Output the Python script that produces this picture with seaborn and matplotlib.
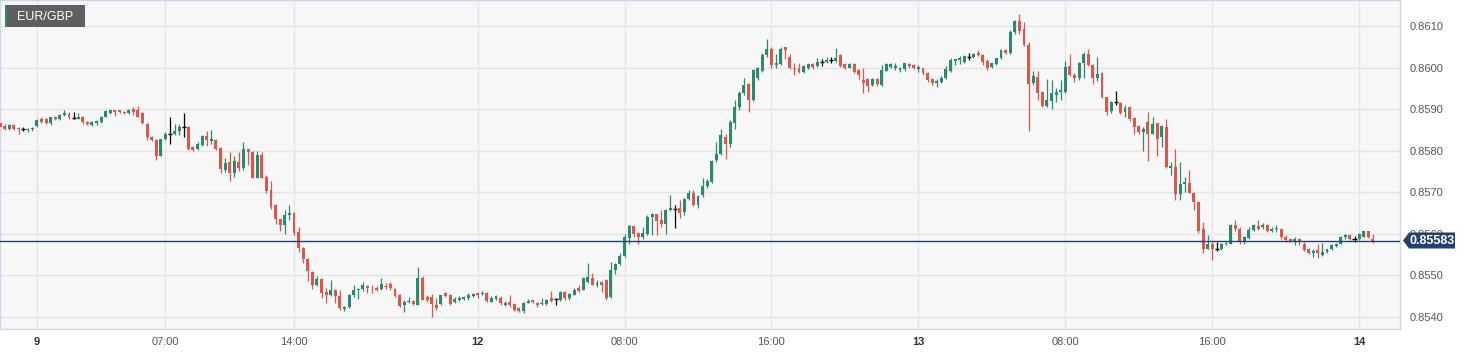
import numpy as np
import pandas as pd
import matplotlib
matplotlib.use("Agg")
import matplotlib.pyplot as plt
from matplotlib.patches import Polygon, Rectangle
import seaborn as sns

# EUR/GBP 15 minute candles, from 8th 22:00 to 14th 00:45
opens = [
    0.85867, 0.85860, 0.85852, 0.85861, 0.85855, 0.85852, 0.85849, 0.85851, 0.85859, 0.85877,
    0.85876, 0.85867, 0.85881, 0.85877, 0.85886, 0.85889, 0.85878, 0.85877, 0.85881, 0.85869,
    0.85861, 0.85866, 0.85868, 0.85881, 0.85890, 0.85897, 0.85898, 0.85894, 0.85890, 0.85900,
    0.85898, 0.85890, 0.85865, 0.85833, 0.85825, 0.85788, 0.85827, 0.85841, 0.85840, 0.85848,
    0.85858, 0.85858, 0.85809, 0.85804, 0.85813, 0.85835, 0.85824, 0.85825, 0.85807, 0.85753,
    0.85772, 0.85746, 0.85772, 0.85759, 0.85803, 0.85796, 0.85735, 0.85789, 0.85736, 0.85705,
    0.85669, 0.85634, 0.85620, 0.85644, 0.85649, 0.85603, 0.85565, 0.85538, 0.85508, 0.85475,
    0.85490, 0.85460, 0.85452, 0.85464, 0.85449, 0.85418, 0.85424, 0.85451, 0.85463, 0.85466,
    0.85473, 0.85470, 0.85469, 0.85467, 0.85474, 0.85478, 0.85466, 0.85452, 0.85427, 0.85434,
    0.85438, 0.85429, 0.85492, 0.85448, 0.85448, 0.85427, 0.85431, 0.85456, 0.85453, 0.85435,
    0.85440, 0.85443, 0.85444, 0.85449, 0.85457, 0.85454, 0.85456, 0.85436, 0.85443, 0.85445,
    0.85428, 0.85435, 0.85430, 0.85420, 0.85413, 0.85433, 0.85440, 0.85433, 0.85430, 0.85430,
    0.85444, 0.85442, 0.85440, 0.85460, 0.85445, 0.85453, 0.85470, 0.85465, 0.85484, 0.85492,
    0.85477, 0.85483, 0.85488, 0.85448, 0.85512, 0.85526, 0.85546, 0.85589, 0.85618, 0.85602,
    0.85592, 0.85599, 0.85640, 0.85646, 0.85632, 0.85623, 0.85657, 0.85659, 0.85661, 0.85652,
    0.85683, 0.85697, 0.85669, 0.85692, 0.85715, 0.85725, 0.85777, 0.85792, 0.85833, 0.85817,
    0.85866, 0.85906, 0.85939, 0.85960, 0.85922, 0.85974, 0.85992, 0.86030, 0.86046, 0.86006,
    0.86008, 0.86049, 0.86026, 0.86000, 0.85998, 0.85990, 0.86000, 0.86008, 0.86004, 0.86013,
    0.86013, 0.86018, 0.86016, 0.86030, 0.86008, 0.86000, 0.86008, 0.85994, 0.85970, 0.85972,
    0.85958, 0.85972, 0.85958, 0.85992, 0.86002, 0.85998, 0.85994, 0.85996, 0.86008, 0.86006,
    0.85996, 0.85998, 0.85987, 0.85972, 0.85962, 0.85965, 0.85974, 0.85992, 0.86016, 0.86018,
    0.86014, 0.86025, 0.86026, 0.86036, 0.86030, 0.86016, 0.86002, 0.86008, 0.86022, 0.86042,
    0.86036, 0.86086, 0.86112, 0.86092, 0.86054, 0.85962, 0.85978, 0.85942, 0.85908, 0.85920,
    0.85935, 0.85942, 0.85942, 0.86004, 0.85982, 0.85976, 0.86010, 0.86034, 0.86006, 0.85976,
    0.85986, 0.85928, 0.85896, 0.85916, 0.85914, 0.85892, 0.85906, 0.85878, 0.85859, 0.85844,
    0.85868, 0.85841, 0.85866, 0.85832, 0.85856, 0.85758, 0.85761, 0.85695, 0.85719, 0.85722,
    0.85697, 0.85675, 0.85610, 0.85564, 0.85574, 0.85562, 0.85562, 0.85575, 0.85576, 0.85620,
    0.85610, 0.85583, 0.85590, 0.85608, 0.85618, 0.85615, 0.85620, 0.85607, 0.85610, 0.85611,
    0.85591, 0.85587, 0.85580, 0.85588, 0.85576, 0.85564, 0.85552, 0.85560, 0.85548, 0.85556,
    0.85562, 0.85570, 0.85575, 0.85591, 0.85596, 0.85587, 0.85586, 0.85592, 0.85606, 0.85588,
]
highs = [
    0.85871, 0.85863, 0.85863, 0.85863, 0.85857, 0.85858, 0.85855, 0.85858, 0.85875, 0.85881,
    0.85879, 0.85882, 0.85884, 0.85889, 0.85899, 0.85893, 0.85892, 0.85890, 0.85884, 0.85871,
    0.85871, 0.85874, 0.85883, 0.85898, 0.85899, 0.85898, 0.85899, 0.85896, 0.85900, 0.85906,
    0.85907, 0.85892, 0.85867, 0.85836, 0.85827, 0.85829, 0.85844, 0.85880, 0.85865, 0.85865,
    0.85890, 0.85860, 0.85811, 0.85821, 0.85837, 0.85847, 0.85849, 0.85827, 0.85809, 0.85781,
    0.85797, 0.85787, 0.85796, 0.85821, 0.85805, 0.85798, 0.85799, 0.85797, 0.85741, 0.85726,
    0.85671, 0.85636, 0.85657, 0.85669, 0.85651, 0.85616, 0.85567, 0.85540, 0.85510, 0.85497,
    0.85492, 0.85470, 0.85488, 0.85466, 0.85464, 0.85426, 0.85454, 0.85476, 0.85470, 0.85484,
    0.85477, 0.85475, 0.85473, 0.85492, 0.85481, 0.85484, 0.85468, 0.85454, 0.85440, 0.85448,
    0.85440, 0.85520, 0.85497, 0.85452, 0.85455, 0.85444, 0.85453, 0.85459, 0.85454, 0.85448,
    0.85449, 0.85450, 0.85456, 0.85457, 0.85459, 0.85461, 0.85458, 0.85449, 0.85452, 0.85449,
    0.85437, 0.85452, 0.85432, 0.85424, 0.85434, 0.85442, 0.85441, 0.85435, 0.85444, 0.85443,
    0.85461, 0.85444, 0.85461, 0.85462, 0.85457, 0.85470, 0.85477, 0.85496, 0.85528, 0.85504,
    0.85489, 0.85486, 0.85490, 0.85531, 0.85530, 0.85552, 0.85600, 0.85620, 0.85619, 0.85604,
    0.85616, 0.85644, 0.85649, 0.85648, 0.85657, 0.85659, 0.85694, 0.85669, 0.85681, 0.85685,
    0.85706, 0.85706, 0.85692, 0.85733, 0.85731, 0.85777, 0.85821, 0.85851, 0.85841, 0.85873,
    0.85922, 0.85943, 0.85976, 0.85963, 0.85996, 0.86002, 0.86035, 0.86070, 0.86049, 0.86033,
    0.86049, 0.86050, 0.86033, 0.86010, 0.86010, 0.86006, 0.86012, 0.86010, 0.86022, 0.86020,
    0.86025, 0.86025, 0.86048, 0.86034, 0.86010, 0.86010, 0.86010, 0.85996, 0.86000, 0.85974,
    0.85976, 0.85974, 0.86006, 0.86012, 0.86012, 0.86010, 0.86002, 0.86012, 0.86010, 0.86008,
    0.86006, 0.86000, 0.85990, 0.85974, 0.85972, 0.85980, 0.86004, 0.86022, 0.86021, 0.86028,
    0.86030, 0.86036, 0.86036, 0.86042, 0.86033, 0.86020, 0.86012, 0.86024, 0.86046, 0.86046,
    0.86090, 0.86114, 0.86129, 0.86110, 0.86062, 0.85992, 0.85992, 0.85944, 0.85972, 0.85970,
    0.85950, 0.85970, 0.86016, 0.86034, 0.85988, 0.86014, 0.86038, 0.86046, 0.86008, 0.86025,
    0.85990, 0.85930, 0.85920, 0.85943, 0.85918, 0.85910, 0.85908, 0.85880, 0.85861, 0.85856,
    0.85892, 0.85881, 0.85867, 0.85861, 0.85875, 0.85773, 0.85803, 0.85773, 0.85737, 0.85753,
    0.85701, 0.85678, 0.85628, 0.85596, 0.85580, 0.85580, 0.85578, 0.85580, 0.85624, 0.85632,
    0.85616, 0.85594, 0.85615, 0.85623, 0.85632, 0.85626, 0.85623, 0.85616, 0.85620, 0.85612,
    0.85596, 0.85589, 0.85591, 0.85590, 0.85579, 0.85566, 0.85564, 0.85576, 0.85578, 0.85564,
    0.85575, 0.85578, 0.85594, 0.85599, 0.85598, 0.85594, 0.85602, 0.85607, 0.85607, 0.85598,
]
lows = [
    0.85854, 0.85849, 0.85850, 0.85850, 0.85840, 0.85848, 0.85846, 0.85848, 0.85857, 0.85867,
    0.85864, 0.85862, 0.85874, 0.85874, 0.85884, 0.85875, 0.85875, 0.85876, 0.85865, 0.85861,
    0.85859, 0.85862, 0.85866, 0.85880, 0.85888, 0.85884, 0.85891, 0.85888, 0.85888, 0.85886,
    0.85880, 0.85864, 0.85825, 0.85823, 0.85777, 0.85786, 0.85825, 0.85817, 0.85838, 0.85837,
    0.85832, 0.85801, 0.85799, 0.85802, 0.85811, 0.85811, 0.85817, 0.85801, 0.85745, 0.85749,
    0.85727, 0.85737, 0.85751, 0.85753, 0.85765, 0.85733, 0.85733, 0.85733, 0.85698, 0.85659,
    0.85622, 0.85607, 0.85600, 0.85632, 0.85596, 0.85555, 0.85528, 0.85486, 0.85467, 0.85474,
    0.85444, 0.85432, 0.85449, 0.85432, 0.85417, 0.85414, 0.85421, 0.85448, 0.85443, 0.85462,
    0.85457, 0.85457, 0.85461, 0.85465, 0.85466, 0.85465, 0.85446, 0.85424, 0.85411, 0.85433,
    0.85429, 0.85428, 0.85440, 0.85436, 0.85399, 0.85416, 0.85428, 0.85448, 0.85429, 0.85432,
    0.85437, 0.85440, 0.85441, 0.85448, 0.85444, 0.85452, 0.85435, 0.85435, 0.85440, 0.85428,
    0.85425, 0.85424, 0.85413, 0.85411, 0.85408, 0.85432, 0.85433, 0.85422, 0.85429, 0.85428,
    0.85436, 0.85427, 0.85438, 0.85440, 0.85440, 0.85451, 0.85459, 0.85464, 0.85480, 0.85476,
    0.85472, 0.85460, 0.85440, 0.85444, 0.85502, 0.85524, 0.85544, 0.85575, 0.85592, 0.85575,
    0.85586, 0.85596, 0.85596, 0.85596, 0.85616, 0.85598, 0.85655, 0.85614, 0.85637, 0.85645,
    0.85681, 0.85666, 0.85661, 0.85689, 0.85711, 0.85722, 0.85773, 0.85789, 0.85779, 0.85809,
    0.85853, 0.85899, 0.85934, 0.85893, 0.85919, 0.85970, 0.85990, 0.86026, 0.85998, 0.85998,
    0.86006, 0.86020, 0.85996, 0.85982, 0.85986, 0.85986, 0.85996, 0.85996, 0.86002, 0.86004,
    0.86010, 0.86010, 0.86014, 0.86002, 0.85996, 0.85998, 0.85987, 0.85972, 0.85939, 0.85942,
    0.85955, 0.85955, 0.85955, 0.85991, 0.86000, 0.85994, 0.85990, 0.85992, 0.86000, 0.85996,
    0.85990, 0.85982, 0.85966, 0.85958, 0.85953, 0.85963, 0.85972, 0.85990, 0.86006, 0.86008,
    0.86010, 0.86018, 0.86022, 0.86028, 0.86006, 0.85994, 0.86000, 0.86007, 0.86020, 0.86033,
    0.86034, 0.86081, 0.86081, 0.86053, 0.85848, 0.85958, 0.85922, 0.85904, 0.85906, 0.85900,
    0.85918, 0.85923, 0.85939, 0.85980, 0.85966, 0.85970, 0.85976, 0.86004, 0.85960, 0.85968,
    0.85926, 0.85886, 0.85890, 0.85910, 0.85888, 0.85881, 0.85872, 0.85839, 0.85839, 0.85799,
    0.85775, 0.85840, 0.85787, 0.85809, 0.85757, 0.85740, 0.85682, 0.85682, 0.85701, 0.85697,
    0.85657, 0.85602, 0.85554, 0.85562, 0.85536, 0.85558, 0.85560, 0.85572, 0.85575, 0.85607,
    0.85575, 0.85575, 0.85588, 0.85607, 0.85608, 0.85610, 0.85604, 0.85604, 0.85604, 0.85588,
    0.85580, 0.85580, 0.85572, 0.85572, 0.85558, 0.85550, 0.85543, 0.85540, 0.85546, 0.85554,
    0.85560, 0.85568, 0.85574, 0.85588, 0.85584, 0.85580, 0.85584, 0.85591, 0.85590, 0.85578,
]
closes = [
    0.85857, 0.85852, 0.85861, 0.85852, 0.85851, 0.85852, 0.85853, 0.85855, 0.85873, 0.85870,
    0.85867, 0.85880, 0.85877, 0.85886, 0.85890, 0.85881, 0.85878, 0.85881, 0.85869, 0.85863,
    0.85869, 0.85871, 0.85881, 0.85896, 0.85897, 0.85893, 0.85893, 0.85890, 0.85898, 0.85894,
    0.85881, 0.85866, 0.85832, 0.85825, 0.85787, 0.85827, 0.85840, 0.85841, 0.85848, 0.85858,
    0.85858, 0.85805, 0.85801, 0.85816, 0.85834, 0.85825, 0.85828, 0.85804, 0.85755, 0.85769,
    0.85747, 0.85775, 0.85759, 0.85803, 0.85796, 0.85735, 0.85789, 0.85735, 0.85703, 0.85665,
    0.85636, 0.85620, 0.85644, 0.85649, 0.85602, 0.85565, 0.85538, 0.85509, 0.85477, 0.85490,
    0.85456, 0.85452, 0.85464, 0.85449, 0.85420, 0.85424, 0.85452, 0.85464, 0.85467, 0.85476,
    0.85468, 0.85468, 0.85464, 0.85478, 0.85472, 0.85468, 0.85449, 0.85425, 0.85434, 0.85437,
    0.85431, 0.85492, 0.85441, 0.85440, 0.85430, 0.85420, 0.85452, 0.85450, 0.85431, 0.85443,
    0.85445, 0.85448, 0.85452, 0.85454, 0.85452, 0.85457, 0.85438, 0.85444, 0.85449, 0.85432,
    0.85433, 0.85427, 0.85417, 0.85413, 0.85432, 0.85438, 0.85435, 0.85429, 0.85433, 0.85441,
    0.85438, 0.85442, 0.85458, 0.85444, 0.85454, 0.85465, 0.85461, 0.85492, 0.85496, 0.85477,
    0.85482, 0.85477, 0.85444, 0.85512, 0.85526, 0.85546, 0.85592, 0.85618, 0.85598, 0.85592,
    0.85602, 0.85640, 0.85647, 0.85631, 0.85622, 0.85657, 0.85661, 0.85659, 0.85650, 0.85683,
    0.85697, 0.85668, 0.85691, 0.85715, 0.85727, 0.85775, 0.85792, 0.85837, 0.85817, 0.85868,
    0.85904, 0.85938, 0.85958, 0.85922, 0.85994, 0.85998, 0.86030, 0.86046, 0.86006, 0.86012,
    0.86045, 0.86042, 0.85998, 0.85996, 0.85990, 0.86004, 0.86008, 0.86002, 0.86014, 0.86013,
    0.86018, 0.86018, 0.86023, 0.86004, 0.85998, 0.86008, 0.85990, 0.85982, 0.85963, 0.85955,
    0.85972, 0.85960, 0.85994, 0.86008, 0.86008, 0.86004, 0.85998, 0.86010, 0.86004, 0.86000,
    0.86002, 0.85986, 0.85970, 0.85962, 0.85967, 0.85975, 0.85996, 0.86018, 0.86020, 0.86022,
    0.86028, 0.86025, 0.86034, 0.86030, 0.86014, 0.86000, 0.86010, 0.86022, 0.86042, 0.86036,
    0.86086, 0.86112, 0.86089, 0.86054, 0.85960, 0.85980, 0.85939, 0.85907, 0.85922, 0.85939,
    0.85942, 0.85947, 0.86002, 0.85982, 0.85976, 0.86012, 0.86034, 0.86006, 0.85974, 0.85984,
    0.85928, 0.85893, 0.85916, 0.85916, 0.85891, 0.85903, 0.85875, 0.85857, 0.85845, 0.85852,
    0.85840, 0.85864, 0.85829, 0.85859, 0.85761, 0.85762, 0.85695, 0.85719, 0.85725, 0.85699,
    0.85677, 0.85607, 0.85564, 0.85574, 0.85562, 0.85562, 0.85574, 0.85578, 0.85620, 0.85610,
    0.85583, 0.85592, 0.85608, 0.85620, 0.85610, 0.85620, 0.85607, 0.85612, 0.85614, 0.85591,
    0.85584, 0.85583, 0.85588, 0.85580, 0.85560, 0.85554, 0.85558, 0.85552, 0.85556, 0.85562,
    0.85572, 0.85575, 0.85592, 0.85596, 0.85587, 0.85587, 0.85598, 0.85606, 0.85591, 0.85583,
]

# candle index of each axis label (15 min candles, weekend skipped)
tick_pos = [8, 36, 64, 104, 136, 168, 200, 232, 264, 296]
tick_labels = ['9', '07:00', '14:00', '12', '08:00', '16:00', '13', '08:00', '16:00', '14']
day_labels = ['9', '12', '13', '14']
price_ticks = [0.8540, 0.8550, 0.8560, 0.8570, 0.8580, 0.8590, 0.8600, 0.8610]
last_price = 0.85583
symbol = 'EUR/GBP'

UP = '#2b8a6d'
DOWN = '#d9574b'

df = pd.DataFrame({'open': opens, 'high': highs, 'low': lows, 'close': closes})
df['i'] = np.arange(len(df))
df['kind'] = np.where(df['close'] > df['open'], 'up',
                      np.where(df['close'] < df['open'], 'down', 'flat'))
df['color'] = df['kind'].map({'up': UP, 'down': DOWN, 'flat': 'black'})

sns.set_style('white', rc={'axes.facecolor': '#f7f7f7', 'axes.edgecolor': '#cfd7e6',
                           'grid.color': '#e4e4e4'})
plt.rcParams['font.family'] = ['Liberation Sans', 'DejaVu Sans']

W, H = 1471, 355
fig = plt.figure(figsize=(W / 100, H / 100), dpi=100)
ax = fig.add_axes([0, 26 / H, 1400 / W, 329 / H])

# wicks
ax.vlines(df['i'], df['low'], df['high'], colors=df['color'], lw=0.9, zorder=2)
# bodies
body = df[df['kind'] != 'flat']
ax.bar(body['i'], body['close'] - body['open'], bottom=body['open'], width=0.64,
       color=body['color'], linewidth=0, zorder=3)
flat = df[df['kind'] == 'flat']
ax.hlines(flat['close'], flat['i'] - 0.45, flat['i'] + 0.45, colors='black', lw=1, zorder=3)

ax.axhline(last_price, color='#23416e', lw=1, zorder=4)

ax.set_xlim(-0.03, 304.9)
ax.set_ylim(0.85370, 0.86163)
ax.set_xticks(tick_pos)
ax.set_xticklabels(tick_labels)
ax.set_yticks(price_ticks)
ax.set_yticklabels([f'{p:.4f}' for p in price_ticks])
ax.yaxis.tick_right()
ax.grid(True, lw=1)
ax.set_axisbelow(True)
ax.tick_params(axis='y', length=0, pad=7, labelsize=8, labelcolor='#555555')
ax.tick_params(axis='x', length=0, pad=6, labelsize=8, labelcolor='#555555')
for lab in ax.get_xticklabels():
    if lab.get_text() in day_labels:
        lab.set_fontweight('bold')
        lab.set_color('#333333')
for s in ax.spines.values():
    s.set_visible(True)
    s.set_color('#cfd7e6')
    s.set_linewidth(1)

# last price tag on the right
y_tag = 1 - 240.5 / H
tag = [(1403, 240.5), (1409, 232.5), (1455, 232.5), (1455, 248.5), (1409, 248.5)]
fig.add_artist(Polygon([(x / W, 1 - y / H) for x, y in tag], closed=True,
                       facecolor='#23416e', edgecolor='none', transform=fig.transFigure, zorder=10))
fig.text(1432 / W, y_tag, f'{last_price:.5f}', color='white', fontsize=9, fontweight='bold',
         ha='center', va='center', zorder=11)

# symbol box top left
fig.add_artist(Rectangle((5 / W, 1 - 27 / H), 80 / W, 22 / H, facecolor='#5e5e5e',
                         edgecolor='none', transform=fig.transFigure, zorder=10))
fig.add_artist(Rectangle((5 / W, 1 - 27 / H), 2.3 / W, 22 / H, facecolor=UP,
                         edgecolor='none', transform=fig.transFigure, zorder=11))
fig.text(17 / W, 1 - 16.5 / H, symbol, color='white', fontsize=9, va='center', zorder=11)

fig.savefig('out.png', dpi=100, facecolor='white')
